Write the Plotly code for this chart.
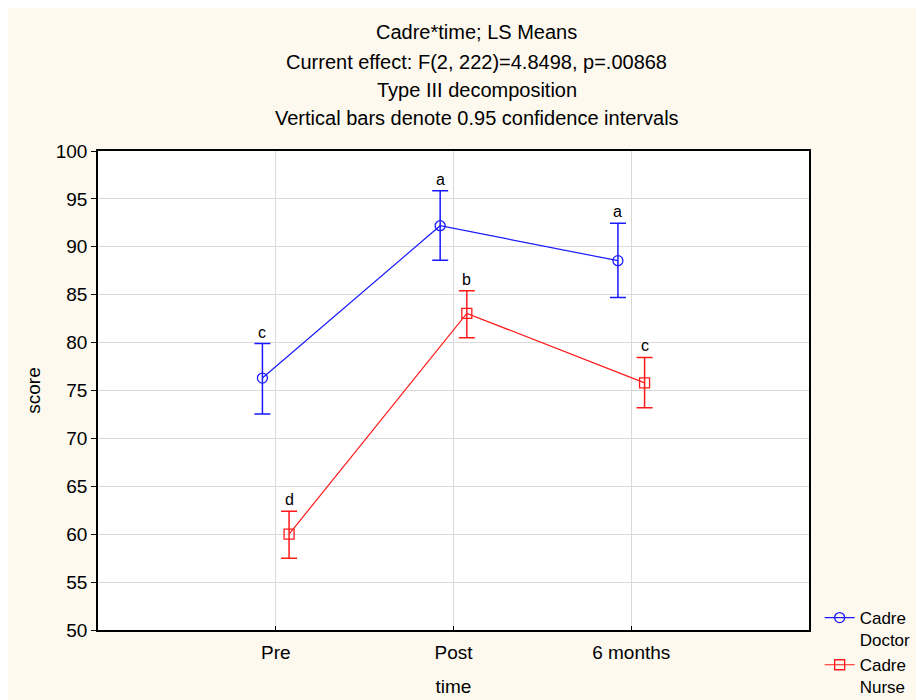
import plotly.graph_objects as go

# ---- data ----
times = ["Pre", "Post", "6 months"]
doctor_mean = [76.3, 92.2, 88.55]
doctor_upper = [79.9, 95.85, 92.45]
doctor_lower = [72.55, 88.6, 84.7]
doctor_letters = ["c", "a", "a"]
nurse_mean = [60.0, 83.05, 75.8]
nurse_upper = [62.4, 85.4, 78.45]
nurse_lower = [57.5, 80.5, 73.2]
nurse_letters = ["d", "b", "c"]
series_names = ["Cadre<br>Doctor", "Cadre<br>Nurse"]
title_lines = [
    "Cadre*time; LS Means",
    "Current effect: F(2, 222)=4.8498, p=.00868",
    "Type III decomposition",
    "Vertical bars denote 0.95 confidence intervals",
]
y_ticks = [50, 55, 60, 65, 70, 75, 80, 85, 90, 95, 100]

FONT = "Liberation Sans, Arial, sans-serif"
BLUE = "#1a1aff"
RED = "#ff1a1a"
CREAM = "#fdf9ef"
OFFSET = 0.075
base = list(range(len(times)))

fig = go.Figure()

def add_series(means, upper, lower, letters, name, color, symbol, shift):
    xs = [b + shift for b in base]
    fig.add_trace(go.Scatter(
        x=xs, y=means, name=name, mode="lines+markers",
        line=dict(color=color, width=1.2),
        marker=dict(symbol=symbol, size=10, color=color,
                    line=dict(color=color, width=1.3)),
        error_y=dict(type="data", symmetric=False,
                     array=[u - m for u, m in zip(upper, means)],
                     arrayminus=[m - l for m, l in zip(means, lower)],
                     color=color, thickness=1.5, width=8),
    ))
    for x, u, t in zip(xs, upper, letters):
        fig.add_annotation(x=x, y=u, text=t, showarrow=False,
                           yanchor="bottom", yshift=1,
                           font=dict(family=FONT, size=16, color="black"))

add_series(doctor_mean, doctor_upper, doctor_lower, doctor_letters,
           series_names[0], BLUE, "circle-open", -OFFSET)
add_series(nurse_mean, nurse_upper, nurse_lower, nurse_letters,
           series_names[1], RED, "square-open", OFFSET)

# title lines
title_y = [1.2484, 1.1858, 1.1273, 1.0689]
for t, yy in zip(title_lines, title_y):
    fig.add_annotation(xref="paper", yref="paper", x=0.533, y=yy, text=t,
                       showarrow=False, xanchor="center", yanchor="middle",
                       font=dict(family=FONT, size=20, color="black"))

fig.update_layout(
    width=924, height=700,
    margin=dict(l=90, r=123, t=143, b=78, autoexpand=False),
    paper_bgcolor=CREAM,
    plot_bgcolor="white",
    font=dict(family=FONT, size=19, color="black"),
    showlegend=True,
    legend=dict(x=1.015, y=0.0626, xanchor="left", yanchor="top",
                bgcolor="rgba(0,0,0,0)", valign="top",
                font=dict(family=FONT, size=17, color="black"),
                tracegroupgap=0, itemwidth=30),
    xaxis=dict(
        range=[-1, 3], tickmode="array", tickvals=base, ticktext=times,
        showgrid=True, gridcolor="#d9d9d9", gridwidth=1,
        showline=True, linecolor="black", linewidth=1.5, mirror=True,
        ticks="inside", ticklen=4, tickcolor="black",
        zeroline=False, ticklabelstandoff=4,
        title=dict(text="time", standoff=18,
                   font=dict(family=FONT, size=19)),
        tickfont=dict(family=FONT, size=19),
    ),
    yaxis=dict(
        range=[50, 100], tickmode="array", tickvals=y_ticks,
        showgrid=True, gridcolor="#d9d9d9", gridwidth=1,
        showline=True, linecolor="black", linewidth=1.5, mirror=True,
        ticks="outside", ticklen=5, tickcolor="black",
        zeroline=False,
        title=dict(text="score", standoff=10,
                   font=dict(family=FONT, size=19)),
        tickfont=dict(family=FONT, size=19),
    ),
)

fig.write_html("out.html")
